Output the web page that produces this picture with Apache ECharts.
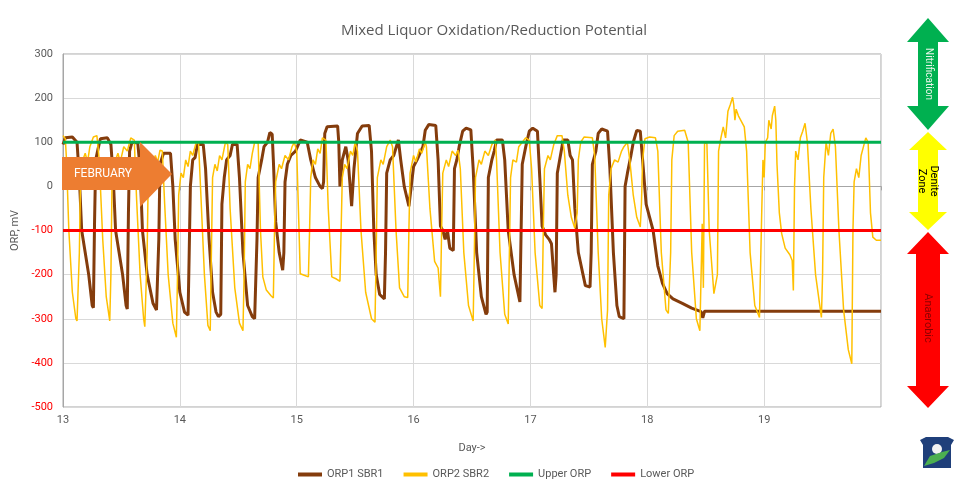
<!DOCTYPE html>
<html>
<head>
<meta charset="utf-8">
<script src="https://cdn.jsdelivr.net/npm/echarts@6/dist/echarts.min.js"></script>
<style>
  html, body { margin: 0; padding: 0; background: #fff; }
  #chart { width: 960px; height: 491px; }
</style>
</head>
<body>
<div id="chart"></div>
<script>
// 数据 [day, mV]
var orp1Sbr1 = [
  [13.00, 95], [13.02, 110], [13.08, 112], [13.12, 100], [13.14, 20], [13.16, -100], [13.19, -150], [13.22, -200], [13.25, -270], [13.26, -275],
  [13.27, -80], [13.28, 60], [13.30, 85], [13.32, 108], [13.38, 110], [13.41, 95], [13.43, 20], [13.45, -100], [13.48, -150], [13.51, -200],
  [13.54, -270], [13.55, -278], [13.56, -60], [13.57, 80], [13.59, 100], [13.64, 98], [13.66, 40], [13.68, -100], [13.72, -200], [13.77, -265],
  [13.80, -280], [13.82, -120], [13.83, 50], [13.86, 75], [13.92, 75], [13.94, 0], [13.96, -120], [14.00, -240], [14.04, -285], [14.07, -292],
  [14.08, -150], [14.09, 0], [14.11, 60], [14.13, 65], [14.15, 95], [14.20, 95], [14.22, 40], [14.25, -120], [14.28, -240], [14.31, -285],
  [14.33, -295], [14.35, -290], [14.36, -40], [14.38, 20], [14.40, 60], [14.43, 70], [14.45, 95], [14.49, 95], [14.51, 20], [14.54, -150],
  [14.58, -270], [14.62, -295], [14.64, -300], [14.66, -120], [14.67, 20], [14.70, 60], [14.72, 90], [14.75, 100], [14.77, 122], [14.79, 118],
  [14.80, 60], [14.82, -80], [14.85, -150], [14.88, -190], [14.89, -150], [14.90, 10], [14.92, 50], [14.95, 70], [14.99, 80], [15.03, 105],
  [15.09, 100], [15.12, 60], [15.16, 20], [15.20, 0], [15.22, -5], [15.23, 10], [15.24, 120], [15.26, 135], [15.35, 137], [15.36, 100],
  [15.37, 0], [15.39, 60], [15.42, 90], [15.44, 60], [15.47, -45], [15.49, 40], [15.52, 120], [15.56, 137], [15.62, 138], [15.64, 80],
  [15.66, -100], [15.68, -200], [15.71, -245], [15.75, -255], [15.76, -150], [15.77, 30], [15.80, 60], [15.83, 70], [15.87, 105], [15.89, 60],
  [15.92, 0], [15.96, -45], [15.98, 0], [16.00, 45], [16.03, 60], [16.05, 72], [16.08, 90], [16.10, 127], [16.13, 140], [16.19, 138],
  [16.21, 60], [16.23, -90], [16.25, -100], [16.27, -120], [16.29, -100], [16.31, -140], [16.34, -145], [16.35, 40], [16.37, 60], [16.39, 90],
  [16.42, 125], [16.45, 132], [16.49, 128], [16.51, 40], [16.54, -150], [16.58, -250], [16.62, -290], [16.63, -285], [16.64, 20], [16.67, 60],
  [16.69, 80], [16.71, 105], [16.76, 105], [16.78, 60], [16.81, -100], [16.86, -200], [16.91, -262], [16.92, -260], [16.93, 50], [16.96, 90],
  [16.99, 125], [17.02, 132], [17.06, 125], [17.08, 20], [17.10, -90], [17.13, -110], [17.16, -120], [17.18, -130], [17.21, -240], [17.22, -200],
  [17.23, 30], [17.25, 60], [17.28, 105], [17.32, 105], [17.34, 70], [17.36, 60], [17.38, -50], [17.41, -150], [17.45, -200], [17.47, -225],
  [17.51, -228], [17.52, -150], [17.53, 50], [17.56, 80], [17.58, 120], [17.61, 130], [17.66, 125], [17.68, 40], [17.71, -150], [17.74, -270],
  [17.76, -295], [17.80, -300], [17.81, 0], [17.83, 30], [17.86, 70], [17.88, 100], [17.91, 127], [17.94, 125], [17.96, 60], [17.99, -40],
  [18.02, -70], [18.05, -100], [18.09, -180], [18.13, -220], [18.17, -243], [18.22, -255], [18.30, -265], [18.38, -276], [18.46, -284], [18.475, -298],
  [18.49, -283], [20.00, -283]
];
var orp2Sbr2 = [
  [13.00, 115], [13.02, 108], [13.03, 60], [13.05, -100], [13.08, -240], [13.11, -300], [13.12, -305], [13.14, -150], [13.15, 20], [13.17, 60],
  [13.19, 75], [13.21, 55], [13.23, 90], [13.26, 112], [13.29, 115], [13.31, 60], [13.34, -120], [13.37, -250], [13.40, -305], [13.41, -200],
  [13.42, 20], [13.45, 60], [13.47, 75], [13.49, 55], [13.52, 90], [13.55, 80], [13.58, 110], [13.61, 105], [13.63, -30], [13.66, -200],
  [13.69, -300], [13.70, -318], [13.72, -150], [13.73, 30], [13.75, 60], [13.77, 45], [13.79, 70], [13.81, 55], [13.83, 82], [13.85, 80],
  [13.87, -40], [13.90, -200], [13.94, -310], [13.97, -342], [13.98, -200], [13.99, -20], [14.01, 30], [14.03, 20], [14.05, 60], [14.07, 45],
  [14.09, 80], [14.11, 70], [14.14, 100], [14.16, 98], [14.18, -20], [14.21, -200], [14.24, -315], [14.26, -327], [14.27, -150], [14.28, 20],
  [14.30, 50], [14.32, 35], [14.34, 70], [14.36, 60], [14.39, 100], [14.41, 95], [14.43, -50], [14.47, -230], [14.51, -310], [14.54, -327],
  [14.55, -200], [14.56, 10], [14.58, 50], [14.60, 40], [14.62, 75], [14.64, 100], [14.67, 98], [14.69, -100], [14.71, -205], [14.74, -235],
  [14.78, -248], [14.80, -253], [14.81, -100], [14.82, 10], [14.85, 50], [14.87, 40], [14.90, 70], [14.93, 60], [14.96, 90], [14.98, 100],
  [15.00, 80], [15.02, -100], [15.03, -198], [15.07, -202], [15.10, -205], [15.11, -100], [15.12, 20], [15.14, 60], [15.16, 50], [15.18, 85],
  [15.20, 75], [15.22, 110], [15.25, 105], [15.27, -50], [15.30, -205], [15.34, -210], [15.37, -215], [15.38, -100], [15.39, 20], [15.41, 50],
  [15.43, 40], [15.46, 80], [15.48, 70], [15.50, 100], [15.52, 80], [15.55, -100], [15.59, -240], [15.64, -300], [15.67, -308], [15.68, -150],
  [15.69, 20], [15.72, 60], [15.74, 50], [15.77, 90], [15.80, 105], [15.82, 90], [15.85, -100], [15.88, -230], [15.92, -250], [15.95, -252],
  [15.96, -100], [15.97, 30], [16.00, 70], [16.02, 55], [16.05, 85], [16.07, 75], [16.10, 100], [16.11, 90], [16.14, -50], [16.18, -170],
  [16.21, -185], [16.23, -250], [16.24, -100], [16.25, 30], [16.28, 60], [16.30, 45], [16.33, 80], [16.36, 70], [16.38, 82], [16.40, 40],
  [16.43, -150], [16.47, -270], [16.51, -305], [16.52, -150], [16.53, 20], [16.56, 60], [16.58, 50], [16.61, 80], [16.64, 70], [16.67, 95],
  [16.70, 105], [16.71, 60], [16.74, -150], [16.78, -290], [16.81, -312], [16.82, -150], [16.83, 20], [16.85, 60], [16.88, 55], [16.90, 90],
  [16.93, 100], [16.96, 110], [16.99, 105], [17.01, 40], [17.04, -150], [17.08, -270], [17.10, -277], [17.11, -100], [17.12, 40], [17.15, 70],
  [17.17, 60], [17.20, 95], [17.23, 115], [17.27, 115], [17.29, 80], [17.32, -20], [17.35, -70], [17.38, -95], [17.40, -60], [17.41, 60],
  [17.43, 100], [17.46, 112], [17.53, 110], [17.55, 70], [17.58, -150], [17.61, -300], [17.64, -365], [17.66, -280], [17.67, -20], [17.69, 40],
  [17.72, 60], [17.75, 55], [17.78, 80], [17.80, 90], [17.83, 100], [17.85, 60], [17.88, -20], [17.91, -70], [17.94, -92], [17.95, -40],
  [17.96, 60], [17.98, 108], [18.02, 112], [18.07, 110], [18.09, 80], [18.12, -150], [18.16, -280], [18.18, -288], [18.20, -150], [18.21, 60],
  [18.23, 115], [18.26, 125], [18.32, 127], [18.35, 100], [18.38, -150], [18.42, -300], [18.45, -327], [18.47, -85], [18.48, -230], [18.49, 98],
  [18.51, 98], [18.53, -100], [18.57, -243], [18.60, -200], [18.61, 80], [18.63, 110], [18.65, 135], [18.67, 110], [18.69, 170], [18.71, 185],
  [18.73, 202], [18.74, 185], [18.75, 150], [18.76, 175], [18.78, 160], [18.83, 135], [18.85, 80], [18.88, -150], [18.92, -270], [18.96, -297],
  [18.98, -50], [18.99, 60], [19.00, 20], [19.01, 100], [19.03, 110], [19.04, 150], [19.06, 130], [19.07, 160], [19.09, 182], [19.10, 150],
  [19.11, 50], [19.13, -60], [19.15, -107], [19.18, -140], [19.22, -155], [19.24, -168], [19.25, -236], [19.26, 0], [19.27, 80], [19.29, 60],
  [19.31, 110], [19.33, 125], [19.35, 143], [19.37, 100], [19.40, -50], [19.44, -200], [19.49, -297], [19.50, -200], [19.51, 20], [19.53, 100],
  [19.55, 70], [19.57, 120], [19.59, 130], [19.61, 90], [19.64, -100], [19.68, -280], [19.72, -370], [19.75, -402], [19.76, -100], [19.77, 10],
  [19.79, 40], [19.81, 20], [19.83, 70], [19.85, 90], [19.87, 110], [19.89, 100], [19.91, -60], [19.93, -115], [19.96, -122], [20.00, -122]
];
var upperOrp = [[13, 100], [20, 100]];
var lowerOrp = [[13, -100], [20, -100]];
var seriesNames = ["ORP1 SBR1", "ORP2 SBR2", "Upper ORP", "Lower ORP"];
var dayRange = [13, 20];
var orpRange = [-500, 300];

(function() {
  var myChart = echarts.init(document.getElementById("chart"));
  var font = "Roboto, sans-serif";
  var grey = "#595959";

  // 右侧双向箭头
  function dblArrow(top, bottom, head, headW, shaftW, color) {
    var cx = 928;
    return {
      type: "polygon",
      shape: {
        points: [
          [cx, top], [cx + headW, top + head], [cx + shaftW, top + head],
          [cx + shaftW, bottom - head], [cx + headW, bottom - head], [cx, bottom],
          [cx - headW, bottom - head], [cx - shaftW, bottom - head],
          [cx - shaftW, top + head], [cx - headW, top + head]
        ]
      },
      style: { fill: color }
    };
  }

  var option = {
    animation: false,
    backgroundColor: "#fff",
    title: {
      text: "Mixed Liquor Oxidation/Reduction Potential",
      left: 489,
      top: 18,
      textAlign: "center",
      textStyle: { fontSize: 15, fontWeight: "normal", color: grey, fontFamily: "'Open Sans', sans-serif" }
    },
    color: ["#843c0c", "#ffc000", "#00b050", "#ff0000"],
    legend: {
      data: seriesNames,
      left: 293,
      top: 464,
      icon: "rect",
      itemWidth: 24,
      itemHeight: 4,
      itemGap: 20,
      textStyle: { fontSize: 11, color: grey, fontFamily: font }
    },
    grid: {
      left: 63,
      right: 79,
      top: 54,
      bottom: 84,
      show: true,
      borderColor: "#a6a6a6",
      borderWidth: 1
    },
    xAxis: {
      type: "value",
      min: dayRange[0],
      max: dayRange[1],
      interval: 1,
      name: "Day->",
      nameLocation: "middle",
      nameGap: 36,
      nameTextStyle: { fontSize: 11, color: grey, fontFamily: font },
      axisLine: { lineStyle: { color: "#a6a6a6" } },
      axisTick: { show: true, length: 4, lineStyle: { color: "#a6a6a6" } },
      axisLabel: {
        color: grey,
        fontSize: 11,
        fontFamily: font,
        margin: 8,
        formatter: function(v) { return v >= dayRange[1] ? "" : v; }
      },
      splitLine: { lineStyle: { color: "#d9d9d9" } }
    },
    yAxis: {
      type: "value",
      min: orpRange[0],
      max: orpRange[1],
      interval: 100,
      name: "ORP, mV",
      nameLocation: "middle",
      nameGap: 38,
      nameTextStyle: { fontSize: 11, color: grey, fontFamily: font },
      axisLine: { show: true, lineStyle: { color: "#a6a6a6" } },
      axisTick: { show: false },
      axisLabel: {
        fontSize: 11,
        fontFamily: font,
        margin: 10,
        color: function(v) { return Number(v) < 0 ? "#ff0000" : grey; }
      },
      splitLine: { lineStyle: { color: "#d9d9d9" } }
    },
    series: [
      { name: seriesNames[0], type: "line", data: orp1Sbr1, showSymbol: false, symbol: "none", lineStyle: { width: 3, color: "#843c0c" } },
      { name: seriesNames[1], type: "line", data: orp2Sbr2, showSymbol: false, symbol: "none", lineStyle: { width: 1.5, color: "#ffc000" } },
      { name: seriesNames[2], type: "line", data: upperOrp, showSymbol: false, symbol: "none", lineStyle: { width: 3, color: "#00b050" } },
      { name: seriesNames[3], type: "line", data: lowerOrp, showSymbol: false, symbol: "none", lineStyle: { width: 3, color: "#ff0000" } }
    ],
    graphic: [
      // FEBRUARY 箭头
      {
        type: "polygon",
        z: 100,
        shape: { points: [[62, 157], [140, 157], [140, 142], [172, 174], [140, 207], [140, 190], [62, 190]] },
        style: { fill: "#ed7d31" }
      },
      {
        type: "text", z: 101, x: 103, y: 174,
        style: { text: "FEBRUARY", fill: "#fff", fontSize: 12, fontFamily: font, align: "center", verticalAlign: "middle" }
      },
      dblArrow(18, 130, 24, 21, 10, "#00b050"),
      dblArrow(132, 230, 18, 19, 10, "#ffff00"),
      dblArrow(232, 408, 22, 21, 12, "#ff0000"),
      {
        type: "text", x: 928, y: 74, rotation: -Math.PI / 2,
        style: { text: "Nitrification", fill: "#e8f5e8", fontSize: 10, fontFamily: font, align: "center", verticalAlign: "middle" }
      },
      {
        type: "text", x: 928, y: 181, rotation: -Math.PI / 2,
        style: { text: "Denite\nZone", fill: "#000", fontSize: 11, lineHeight: 12, fontFamily: font, align: "center", verticalAlign: "middle" }
      },
      {
        type: "text", x: 928, y: 318, rotation: -Math.PI / 2,
        style: { text: "Anaerobic", fill: "#8b0000", fontSize: 11, fontFamily: font, align: "center", verticalAlign: "middle" }
      },
      // 右下角标志
      {
        type: "polygon",
        shape: { points: [[920, 440], [926, 437], [948, 437], [954, 440], [951, 445], [951, 468], [923, 468], [923, 445]] },
        style: { fill: "#1f3f7a" }
      },
      {
        type: "circle",
        shape: { cx: 937, cy: 449, r: 5 },
        style: { fill: "#f2f2f2" }
      },
      {
        type: "polygon",
        shape: { points: [[924, 466], [930, 456], [942, 452], [950, 450], [944, 458], [934, 463]] },
        style: { fill: "#4caf50" }
      }
    ]
  };

  myChart.setOption(option);
  window.addEventListener("resize", function() {
    myChart.resize();
  });
})();
</script>
</body>
</html>
